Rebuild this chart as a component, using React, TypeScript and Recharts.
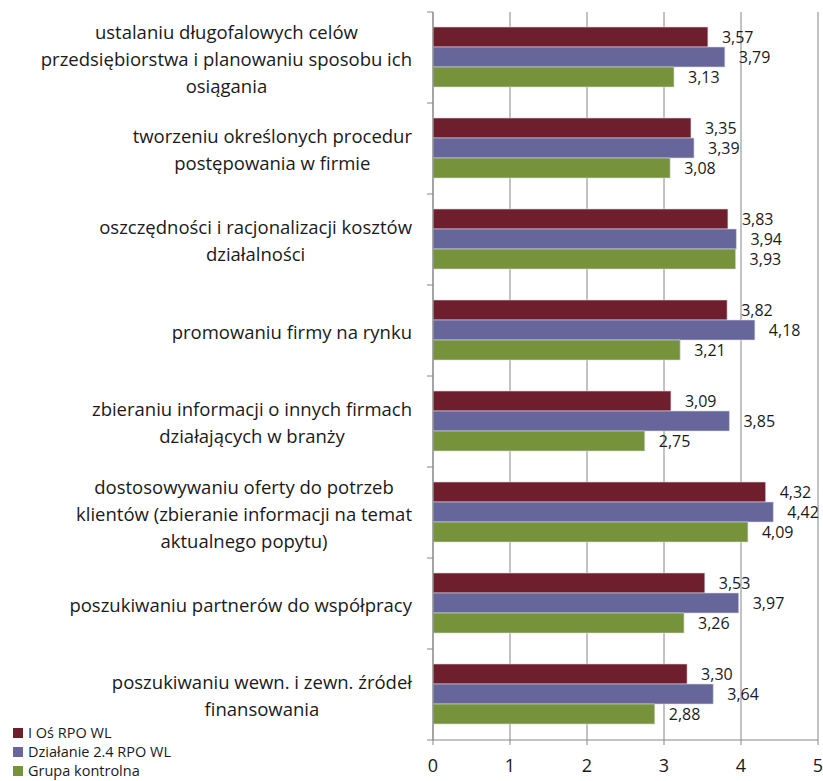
import React from "react";
import {
  Bar,
  BarChart,
  CartesianGrid,
  LabelList,
  Legend,
  XAxis,
  YAxis,
} from "recharts";

const categories = [
  "ustalaniu długofalowych celów\nprzedsiębiorstwa i planowaniu sposobu ich\nosiągania",
  "tworzeniu określonych procedur\npostępowania w firmie",
  "oszczędności i racjonalizacji kosztów\ndziałalności",
  "promowaniu firmy na rynku",
  "zbieraniu informacji o innych firmach\ndziałających w branży",
  "dostosowywaniu oferty do potrzeb\nklientów (zbieranie informacji na temat\naktualnego popytu)",
  "poszukiwaniu partnerów do współpracy",
  "poszukiwaniu wewn. i zewn. źródeł\nfinansowania",
];

const osRpo = [3.57, 3.35, 3.83, 3.82, 3.09, 4.32, 3.53, 3.3];
const dzialanie24 = [3.79, 3.39, 3.94, 4.18, 3.85, 4.42, 3.97, 3.64];
const grupaKontrolna = [3.13, 3.08, 3.93, 3.21, 2.75, 4.09, 3.26, 2.88];

const xTicks = [0, 1, 2, 3, 4, 5];

const seriesNames = ["I Oś RPO WL", "Działanie 2.4 RPO WL", "Grupa kontrolna"];
const seriesColors = ["#6E1E2D", "#66669A", "#76933C"];

const data = categories.map((name, i) => ({
  name,
  a: osRpo[i],
  b: dzialanie24[i],
  c: grupaKontrolna[i],
}));

const FONT = "'Open Sans', 'Noto Sans', sans-serif";
const WIDTH = 823;
const HEIGHT = 781;
const TOP = 12;
const PLOT_BOTTOM = 740;
const AXIS_X = 433;
const BAND = (PLOT_BOTTOM - TOP) / categories.length;
const LABEL_SIZE = 18.5;
const LINE_H = 27;

let ctx: CanvasRenderingContext2D | null = null;
function textWidth(s: string) {
  if (!ctx) ctx = document.createElement("canvas").getContext("2d");
  if (!ctx) return s.length * 9;
  ctx.font = `${LABEL_SIZE}px ${FONT}`;
  return ctx.measureText(s).width;
}

const fmt = (v: any) => String(Number(v).toFixed(2)).replace(".", ",");

// category label: lines centred inside a block that is right-aligned to the axis,
// plus small tick marks at the band boundaries
function CategoryTick(props: any) {
  const { y, payload, index } = props;
  const lines = String(payload.value).split("\n");
  const right = AXIS_X - 21;
  const maxW = Math.max(...lines.map(textWidth));
  const cx = right - maxW / 2;
  const startY = y - ((lines.length - 1) * LINE_H) / 2;
  return (
    <g>
      {index === 0 && (
        <line x1={AXIS_X - 6} x2={AXIS_X} y1={y - BAND / 2} y2={y - BAND / 2} stroke="#868686" />
      )}
      <line x1={AXIS_X - 6} x2={AXIS_X} y1={y + BAND / 2} y2={y + BAND / 2} stroke="#868686" />
      <text
        textAnchor="middle"
        fontFamily={FONT}
        fontSize={LABEL_SIZE}
        fill="#1a1a1a"
        dominantBaseline="central"
      >
        {lines.map((l, i) => (
          <tspan key={i} x={cx} y={startY + i * LINE_H}>
            {l}
          </tspan>
        ))}
      </text>
    </g>
  );
}

function LegendBox() {
  return (
    <div style={{ fontFamily: FONT, fontSize: 14.5, color: "#1a1a1a", lineHeight: "19px" }}>
      {seriesNames.map((n, i) => (
        <div key={n} style={{ display: "flex", alignItems: "center", height: 19 }}>
          <span
            style={{
              display: "inline-block",
              width: 10,
              height: 10,
              background: seriesColors[i],
              marginRight: 5,
            }}
          />
          {n}
        </div>
      ))}
    </div>
  );
}

export default function App() {
  const keys = ["a", "b", "c"];
  return (
    <div style={{ position: "absolute", left: 0, top: 0, background: "#fff" }}>
      <BarChart
        width={WIDTH}
        height={HEIGHT}
        data={data}
        layout="vertical"
        margin={{ top: TOP, right: 5, bottom: 0, left: 0 }}
        barCategoryGap={15}
        barGap={0}
      >
        <CartesianGrid horizontal={false} stroke="#868686" strokeWidth={1} />
        <XAxis
          type="number"
          domain={[0, 5]}
          ticks={xTicks}
          interval={0}
          height={HEIGHT - PLOT_BOTTOM}
          stroke="#868686"
          tickSize={5}
          tickMargin={14}
          tick={{ fill: "#1a1a1a", fontSize: 18, fontFamily: FONT }}
        />
        <YAxis
          type="category"
          dataKey="name"
          width={AXIS_X}
          stroke="#868686"
          tickLine={false}
          interval={0}
          tick={<CategoryTick />}
        />
        <Legend
          layout="horizontal"
          verticalAlign="middle"
          align="center"
          content={<LegendBox />}
          wrapperStyle={{ left: 13, top: 723, width: 260 }}
        />
        {keys.map((k, i) => (
          <Bar
            key={k}
            dataKey={k}
            name={seriesNames[i]}
            fill={seriesColors[i]}
            stroke="#d8d8e0"
            strokeWidth={0.6}
            isAnimationActive={false}
          >
            <LabelList
              dataKey={k}
              position="right"
              offset={14}
              formatter={fmt}
              style={{ fill: "#1a1a1a", fontSize: 16, fontFamily: FONT }}
            />
          </Bar>
        ))}
      </BarChart>
    </div>
  );
}
